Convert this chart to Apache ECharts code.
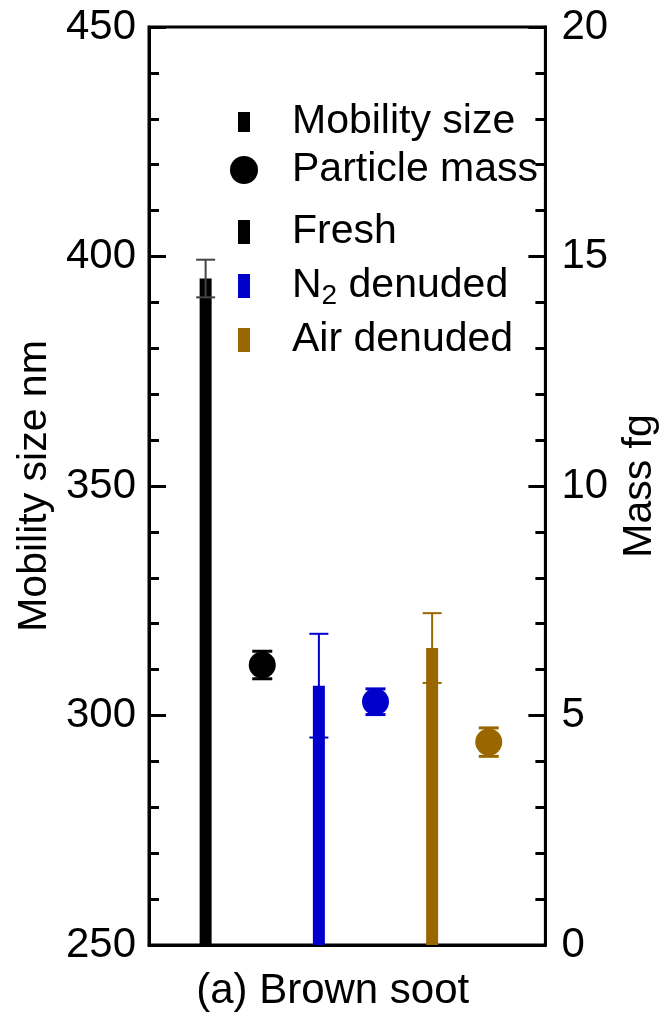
<!DOCTYPE html>
<html>
<head>
<meta charset="utf-8">
<script src="https://cdn.jsdelivr.net/npm/echarts@6/dist/echarts.min.js"></script>
<style>
html,body{margin:0;padding:0;background:#fff;}
#chart{width:668px;height:1017px;}
</style>
</head>
<body>
<div id="chart"></div>
<script>
// ---- data ----
const treatments = ['Fresh', 'N2 denuded', 'Air denuded'];
const treatmentColors = ['#000000', '#0000cc', '#9a6600'];
const errorLineColors = ['#444444', '#0000cc', '#9a6600'];
const mobilitySize = [395.2, 306.5, 314.7];      // nm
const mobilitySizeErr = [4.1, 11.3, 7.6];        // nm
const particleMass = [6.1, 5.3, 4.42];           // fg
const particleMassErr = [0.3, 0.28, 0.31];       // fg
const sizeTicks = [250, 300, 350, 400, 450];
const massTicks = [0, 5, 10, 15, 20];
const panelLabel = '(a) Brown soot';

const FONT = '"Liberation Sans", Arial, sans-serif';
const FS = 42;
const LFS = 41;

// slot positions along x: bar then mass dot for each treatment
const barPos = treatments.map((t, i) => 2 * i + 1);
const massPos = treatments.map((t, i) => 2 * i + 2);

const barSeries = treatments.map((t, i) => ({
  name: t,
  type: 'bar',
  xAxisIndex: 0,
  yAxisIndex: 0,
  barWidth: 12,
  barGap: '-100%',
  itemStyle: { color: treatmentColors[i] },
  z: 2,
  data: [[barPos[i], mobilitySize[i]]]
}));

const sizeErrData = treatments.map((t, i) => [barPos[i], mobilitySize[i], mobilitySizeErr[i], i]);
const massErrData = treatments.map((t, i) => [massPos[i], particleMass[i], particleMassErr[i], i]);

function errRender(capW, lw, colors) {
  return function (params, api) {
    const x = api.value(0), y = api.value(1), e = api.value(2), ci = api.value(3);
    const top = api.coord([x, y + e]);
    const bot = api.coord([x, y - e]);
    const c = colors[ci];
    const style = { stroke: c, lineWidth: lw, fill: null };
    return {
      type: 'group',
      children: [
        { type: 'line', shape: { x1: top[0], y1: top[1], x2: bot[0], y2: bot[1] }, style },
        { type: 'line', shape: { x1: top[0] - capW / 2, y1: top[1], x2: top[0] + capW / 2, y2: top[1] }, style },
        { type: 'line', shape: { x1: bot[0] - capW / 2, y1: bot[1], x2: bot[0] + capW / 2, y2: bot[1] }, style }
      ]
    };
  };
}

const chart = echarts.init(document.getElementById('chart'), null, { renderer: 'canvas' });

const legendText = {
  color: '#000',
  fontFamily: FONT,
  fontSize: LFS,
  lineHeight: 48,
  rich: {
    n: { fontFamily: FONT, fontSize: LFS, color: '#000', lineHeight: 48 },
    sub: { fontFamily: FONT, fontSize: 28, color: '#000', verticalAlign: 'bottom', lineHeight: 48, padding: [14, 0, 0, 0] }
  }
};

function legendFmt(name) {
  if (name === 'N2 denuded') return '{n|N}{sub|2}{n| denuded}';
  return name;
}

const option = {
  animation: false,
  backgroundColor: '#ffffff',
  textStyle: { fontFamily: FONT },
  grid: {
    left: 149, right: 101, top: 27, bottom: 65,
    show: true, borderColor: '#000', borderWidth: 3, backgroundColor: 'transparent'
  },
  legend: [
    {
      data: [{ name: 'Mobility size', icon: 'rect' }],
      left: 238, top: 98, orient: 'vertical', padding: 0,
      itemWidth: 12, itemHeight: 20,
      textStyle: Object.assign({}, legendText, { padding: [0, 0, 0, 37] }),
      selectedMode: false
    },
    {
      data: [{ name: 'Particle mass', icon: 'circle' }],
      left: 230, top: 146, orient: 'vertical', padding: 0,
      itemWidth: 28, itemHeight: 28,
      textStyle: Object.assign({}, legendText, { padding: [0, 0, 0, 29] }),
      selectedMode: false
    },
    {
      data: treatments.map(t => ({ name: t, icon: 'rect' })),
      left: 238, top: 208, orient: 'vertical', padding: 0,
      itemWidth: 12, itemHeight: 24, itemGap: 6,
      formatter: legendFmt,
      textStyle: Object.assign({}, legendText, { padding: [0, 0, 0, 37] }),
      selectedMode: false
    }
  ],
  xAxis: [{
    type: 'value', min: 0, max: 7,
    axisLine: { show: true, lineStyle: { color: '#000', width: 3 } },
    axisTick: { show: false },
    axisLabel: { show: false },
    splitLine: { show: false },
    name: panelLabel,
    nameLocation: 'middle',
    nameGap: 25,
    nameTextStyle: { color: '#000', fontFamily: FONT, fontSize: FS, padding: [0, 29, 0, 0], verticalAlign: 'top' }
  }],
  yAxis: [
    {
      type: 'value', position: 'left',
      min: sizeTicks[0], max: sizeTicks[sizeTicks.length - 1], interval: sizeTicks[1] - sizeTicks[0],
      axisLine: { show: true, lineStyle: { color: '#000', width: 3 } },
      axisTick: { show: true, inside: true, length: 17, lineStyle: { color: '#000', width: 3 } },
      minorTick: { show: true, splitNumber: 5, length: 10, lineStyle: { color: '#000', width: 3 } },
      splitLine: { show: false },
      minorSplitLine: { show: false },
      axisLabel: { color: '#000', fontFamily: FONT, fontSize: FS, margin: 13 },
      name: 'Mobility size nm',
      nameLocation: 'middle', nameRotate: 90, nameGap: 94,
      nameTextStyle: { color: '#000', fontFamily: FONT, fontSize: LFS }
    },
    {
      type: 'value', position: 'right',
      min: massTicks[0], max: massTicks[massTicks.length - 1], interval: massTicks[1] - massTicks[0],
      axisLine: { show: true, lineStyle: { color: '#000', width: 3 } },
      axisTick: { show: true, inside: true, length: 17, lineStyle: { color: '#000', width: 3 } },
      minorTick: { show: true, splitNumber: 5, length: 10, lineStyle: { color: '#000', width: 3 } },
      splitLine: { show: false },
      minorSplitLine: { show: false },
      axisLabel: { color: '#000', fontFamily: FONT, fontSize: FS, margin: 16 },
      name: 'Mass fg',
      nameLocation: 'middle', nameRotate: 90, nameGap: 57,
      nameTextStyle: { color: '#000', fontFamily: FONT, fontSize: LFS }
    }
  ],
  series: barSeries.concat([
    {
      name: 'Mobility size',
      type: 'custom',
      xAxisIndex: 0, yAxisIndex: 0,
      itemStyle: { color: '#000' },
      renderItem: errRender(19, 2, errorLineColors),
      encode: { x: 0, y: [1] },
      data: sizeErrData,
      z: 4
    },
    {
      name: 'Particle mass',
      type: 'scatter',
      xAxisIndex: 0, yAxisIndex: 1,
      symbol: 'circle', symbolSize: 27,
      itemStyle: { color: '#000', opacity: 1 },
      data: treatments.map((t, i) => ({ value: [massPos[i], particleMass[i]], itemStyle: { color: treatmentColors[i] } })),
      z: 3
    },
    {
      name: 'Particle mass',
      type: 'custom',
      xAxisIndex: 0, yAxisIndex: 1,
      itemStyle: { color: '#000' },
      renderItem: errRender(20, 3, treatmentColors),
      encode: { x: 0, y: [1] },
      data: massErrData,
      z: 3
    }
  ])
};

chart.setOption(option);
</script>
</body>
</html>
